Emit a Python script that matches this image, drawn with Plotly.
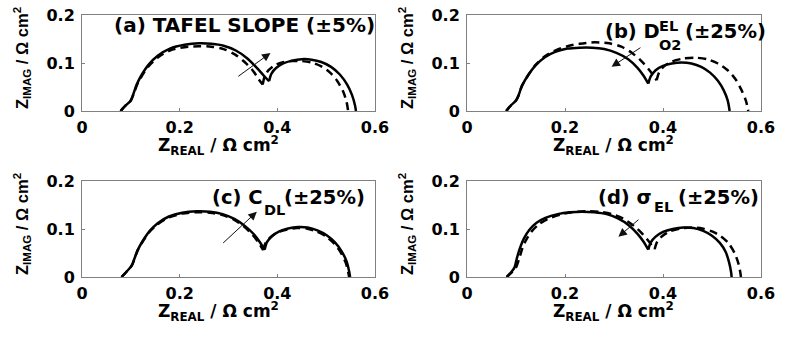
import plotly.graph_objects as go

# ---------------- data ----------------
X_TICKS = [0, 0.2, 0.4, 0.6]
X_TICK_TEXT = ["0", "0.2", "0.4", "0.6"]
Y_TICKS = [0, 0.1, 0.2]
Y_TICK_TEXT = ["0", "0.1", "0.2"]

# panel (a) Tafel slope
a_solid_x = [0.079, 0.090, 0.100, 0.105, 0.112, 0.122, 0.136, 0.155, 0.180, 0.210, 0.240, 0.265, 0.290, 0.315, 0.338, 0.358, 0.372, 0.383,
             None, 0.383, 0.388, 0.398, 0.412, 0.430, 0.450, 0.470, 0.490, 0.510, 0.528, 0.543, 0.553, 0.559, 0.561]
a_solid_y = [0.000, 0.012, 0.022, 0.035, 0.055, 0.075, 0.096, 0.115, 0.130, 0.138, 0.141, 0.140, 0.136, 0.126, 0.110, 0.090, 0.074, 0.062,
             None, 0.062, 0.078, 0.090, 0.099, 0.105, 0.108, 0.107, 0.102, 0.092, 0.076, 0.055, 0.033, 0.012, 0.000]
a_dash_x = [0.079, 0.090, 0.100, 0.106, 0.113, 0.123, 0.137, 0.156, 0.180, 0.210, 0.240, 0.265, 0.290, 0.313, 0.333, 0.350, 0.362, 0.370,
            None, 0.370, 0.374, 0.382, 0.394, 0.410, 0.430, 0.450, 0.470, 0.490, 0.508, 0.523, 0.535, 0.542, 0.545]
a_dash_y = [0.000, 0.012, 0.022, 0.036, 0.055, 0.074, 0.094, 0.112, 0.126, 0.133, 0.135, 0.134, 0.129, 0.118, 0.102, 0.084, 0.066, 0.055,
            None, 0.055, 0.072, 0.085, 0.095, 0.101, 0.104, 0.104, 0.101, 0.093, 0.080, 0.062, 0.040, 0.018, 0.000]

# panel (b) oxygen diffusivity in electrolyte
b_solid_x = [0.080, 0.090, 0.100, 0.105, 0.112, 0.125, 0.140, 0.159, 0.180, 0.205, 0.230, 0.255, 0.280, 0.305, 0.329, 0.348, 0.360, 0.370,
             None, 0.370, 0.375, 0.385, 0.400, 0.418, 0.438, 0.458, 0.478, 0.496, 0.512, 0.524, 0.532, 0.536]
b_solid_y = [0.000, 0.012, 0.022, 0.032, 0.052, 0.075, 0.095, 0.112, 0.123, 0.130, 0.132, 0.132, 0.129, 0.121, 0.108, 0.090, 0.074, 0.057,
             None, 0.057, 0.072, 0.085, 0.094, 0.099, 0.101, 0.099, 0.092, 0.080, 0.063, 0.043, 0.022, 0.000]
b_dash_x = [0.080, 0.090, 0.100, 0.105, 0.112, 0.125, 0.140, 0.159, 0.180, 0.205, 0.230, 0.260, 0.290, 0.315, 0.338, 0.358, 0.374, 0.387,
            None, 0.387, 0.392, 0.402, 0.418, 0.440, 0.465, 0.490, 0.512, 0.532, 0.548, 0.560, 0.569, 0.574]
b_dash_y = [0.000, 0.012, 0.022, 0.032, 0.052, 0.075, 0.096, 0.114, 0.126, 0.135, 0.140, 0.143, 0.141, 0.134, 0.120, 0.102, 0.083, 0.064,
            None, 0.064, 0.080, 0.093, 0.103, 0.109, 0.111, 0.108, 0.099, 0.085, 0.066, 0.044, 0.022, 0.000]

# panel (c) double-layer capacitance
c_solid_x = [0.081, 0.092, 0.102, 0.108, 0.115, 0.125, 0.138, 0.155, 0.178, 0.205, 0.235, 0.262, 0.288, 0.312, 0.334, 0.352, 0.364, 0.374,
             None, 0.374, 0.379, 0.389, 0.404, 0.422, 0.442, 0.462, 0.482, 0.501, 0.518, 0.532, 0.542, 0.547, 0.549]
c_solid_y = [0.000, 0.012, 0.024, 0.040, 0.058, 0.076, 0.095, 0.112, 0.126, 0.134, 0.137, 0.136, 0.131, 0.121, 0.106, 0.089, 0.073, 0.057,
             None, 0.057, 0.073, 0.085, 0.095, 0.101, 0.104, 0.103, 0.097, 0.087, 0.072, 0.053, 0.032, 0.012, 0.000]
c_dash_x = [0.081, 0.092, 0.102, 0.108, 0.115, 0.125, 0.138, 0.155, 0.178, 0.205, 0.235, 0.262, 0.288, 0.312, 0.333, 0.350, 0.362, 0.371,
            None, 0.371, 0.376, 0.386, 0.401, 0.420, 0.440, 0.460, 0.480, 0.499, 0.516, 0.530, 0.540, 0.545, 0.547]
c_dash_y = [0.000, 0.012, 0.024, 0.040, 0.058, 0.075, 0.094, 0.110, 0.124, 0.132, 0.135, 0.134, 0.129, 0.119, 0.104, 0.087, 0.071, 0.056,
            None, 0.056, 0.071, 0.083, 0.093, 0.099, 0.102, 0.101, 0.095, 0.085, 0.070, 0.051, 0.030, 0.011, 0.000]

# panel (d) electrolyte conductivity
d_solid_x = [0.081, 0.090, 0.097, 0.102, 0.108, 0.116, 0.127, 0.142, 0.160, 0.185, 0.210, 0.235, 0.260, 0.285, 0.308, 0.330, 0.348, 0.360, 0.370,
             None, 0.370, 0.375, 0.385, 0.400, 0.420, 0.442, 0.462, 0.482, 0.500, 0.516, 0.528, 0.535, 0.539, 0.540]
d_solid_y = [0.000, 0.010, 0.020, 0.040, 0.060, 0.080, 0.098, 0.113, 0.123, 0.131, 0.135, 0.136, 0.135, 0.131, 0.122, 0.108, 0.090, 0.074, 0.057,
             None, 0.057, 0.072, 0.084, 0.094, 0.100, 0.103, 0.102, 0.096, 0.086, 0.071, 0.052, 0.030, 0.010, 0.000]
d_dash_x = [0.081, 0.092, 0.100, 0.107, 0.113, 0.121, 0.132, 0.147, 0.165, 0.190, 0.215, 0.245, 0.270, 0.295, 0.318, 0.340, 0.358, 0.372, 0.383,
            None, 0.383, 0.388, 0.398, 0.414, 0.435, 0.458, 0.480, 0.500, 0.518, 0.534, 0.546, 0.554, 0.558, 0.559]
d_dash_y = [0.000, 0.010, 0.020, 0.040, 0.060, 0.078, 0.095, 0.110, 0.121, 0.130, 0.135, 0.137, 0.136, 0.131, 0.122, 0.107, 0.090, 0.073, 0.058,
            None, 0.058, 0.073, 0.085, 0.095, 0.101, 0.103, 0.101, 0.095, 0.085, 0.070, 0.050, 0.028, 0.008, 0.000]

panels = [
    (a_solid_x, a_solid_y, a_dash_x, a_dash_y),
    (b_solid_x, b_solid_y, b_dash_x, b_dash_y),
    (c_solid_x, c_solid_y, c_dash_x, c_dash_y),
    (d_solid_x, d_solid_y, d_dash_x, d_dash_y),
]

X_TITLE = "Z<sub>REAL</sub> / Ω cm<sup>2</sup>"
Y_TITLE = "Z<sub>IMAG</sub> / Ω cm<sup>2</sup>"

# ---------------- figure ----------------
W, H = 790, 337
FONT = "DejaVu Sans"
NARROW = "Liberation Sans"

def fx(px):
    return px / W

def fy(py):
    return 1 - py / H

# plot boxes in page pixels: (left, right, top, bottom)
boxes = [(82, 375, 15, 111), (467, 761, 15, 111), (82, 375, 181, 277), (467, 761, 181, 277)]

fig = go.Figure()
layout = dict(width=W, height=H, autosize=False, margin=dict(l=0, r=0, t=0, b=0, pad=0),
              paper_bgcolor="white", plot_bgcolor="white", showlegend=False,
              font=dict(family=FONT, color="black"))

for i, ((sx, sy, dx, dy), (l, r, t, b)) in enumerate(zip(panels, boxes)):
    n = "" if i == 0 else str(i + 1)
    fig.add_trace(go.Scatter(x=dx, y=dy, mode="lines", xaxis="x" + n, yaxis="y" + n,
                             line=dict(color="black", width=2.5, dash="8px,5px", shape="spline", smoothing=0.8),
                             connectgaps=False))
    fig.add_trace(go.Scatter(x=sx, y=sy, mode="lines", xaxis="x" + n, yaxis="y" + n,
                             line=dict(color="black", width=2.5, shape="spline", smoothing=0.8),
                             connectgaps=False))
    axcommon = dict(showline=True, mirror=True, linecolor="#808080", linewidth=1, automargin=False,
                    showgrid=False, zeroline=False, ticks="inside", ticklen=3, tickcolor="#808080",
                    tickfont=dict(family=FONT, size=16, color="black"))
    layout["xaxis" + n] = dict(axcommon, domain=[fx(l), fx(r)], range=[0, 0.6],
                               tickvals=X_TICKS, ticktext=["<b>%s</b>" % s for s in X_TICK_TEXT],
                               anchor="y" + n, ticklabelstandoff=2)
    layout["yaxis" + n] = dict(axcommon, domain=[fy(b), fy(t)], range=[0, 0.2],
                               tickvals=Y_TICKS, ticktext=["<b>%s</b>" % s for s in Y_TICK_TEXT],
                               anchor="x" + n, ticklabelstandoff=3)

fig.update_layout(**layout)

# axis titles
for (l, r, t, b) in boxes:
    cx = (l + r) / 2 - (10 if l < 100 else 1)
    fig.add_annotation(x=fx(cx), y=fy(b + 34), xref="paper", yref="paper",
                       text="<b>%s</b>" % X_TITLE, showarrow=False,
                       xanchor="center", yanchor="middle",
                       font=dict(family=FONT, size=17, color="black"))
    fig.add_annotation(x=fx(l - 60), y=fy((t + b) / 2 - 5), xref="paper", yref="paper",
                       text="<b>%s</b>" % Y_TITLE, showarrow=False, textangle=-90,
                       xanchor="center", yanchor="middle",
                       font=dict(family=NARROW, size=16.5, color="black"))

# arrows (tip, tail) in data units
arrows = [("x", "y", 0.386, 0.121, 0.317, 0.070),
          ("x2", "y2", 0.295, 0.092, 0.357, 0.134),
          ("x3", "y3", 0.358, 0.136, 0.286, 0.068),
          ("x4", "y4", 0.309, 0.084, 0.353, 0.122)]
for xr, yr, x, y, ax, ay in arrows:
    fig.add_annotation(x=x, y=y, ax=ax, ay=ay, xref=xr, yref=yr, axref=xr, ayref=yr,
                       text="", showarrow=True, arrowhead=2, arrowsize=1.7, arrowwidth=1,
                       arrowcolor="#111111")

def label(text, px, py, size):
    fig.add_annotation(x=fx(px), y=fy(py), xref="paper", yref="paper", text="<b>%s</b>" % text,
                       showarrow=False, xanchor="left", yanchor="middle",
                       font=dict(family=FONT, size=size, color="black"))

label("(a) TAFEL SLOPE (±5%)", 112, 25, 20)
label("(b) D", 603, 32, 19.5)
label("EL", 657, 26, 14.5)
label("O2", 657, 45, 14.5)
label("(±25%)", 683, 32, 19.5)
label("(c) C", 210, 197, 19.5)
label("DL", 262, 210, 14.5)
label("(±25%)", 282, 197, 19.5)
label("(d) σ", 596, 197, 19.5)
label("EL", 652, 207, 14.5)
label("(±25%)", 676, 197, 19.5)

fig.write_html("out.html")
